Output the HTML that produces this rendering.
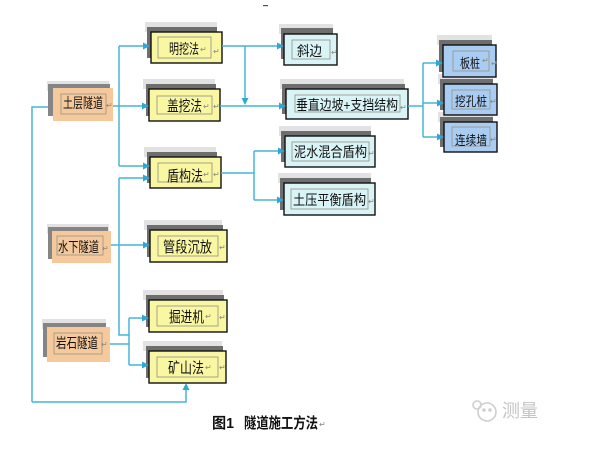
<!DOCTYPE html>
<html><head><meta charset="utf-8"><style>
html,body{margin:0;padding:0;background:#fff;}
svg{display:block;}
text{font-family:"Liberation Sans","Noto Sans CJK SC","WenQuanYi Zen Hei",sans-serif;}
</style></head><body>
<svg width="600" height="450" viewBox="0 0 600 450" xmlns="http://www.w3.org/2000/svg">
<rect width="600" height="450" fill="#fff"/>
<rect x="263" y="5" width="5" height="1.2" fill="#555"/>

<g>
<rect x="47" y="81" width="62" height="10" fill="#e2e2e2"/><rect x="48" y="84" width="62" height="32" fill="#858585"/>
<rect x="47" y="224" width="62" height="10" fill="#e2e2e2"/><rect x="48" y="227" width="60" height="32" fill="#858585"/>
<rect x="42" y="319" width="64" height="10" fill="#e2e2e2"/><rect x="43" y="323" width="63" height="34" fill="#858585"/>
<rect x="145" y="22" width="72" height="10" fill="#e2e2e2"/><rect x="147" y="27" width="70" height="31" fill="#6e6e6e"/>
<rect x="143" y="79" width="72" height="10" fill="#e2e2e2"/><rect x="146" y="84" width="70" height="32" fill="#6e6e6e"/>
<rect x="144" y="147" width="72" height="10" fill="#e2e2e2"/><rect x="147" y="152" width="70" height="31" fill="#6e6e6e"/>
<rect x="144" y="220" width="78" height="10" fill="#e2e2e2"/><rect x="147" y="225" width="76" height="32" fill="#6e6e6e"/>
<rect x="143" y="290" width="80" height="10" fill="#e2e2e2"/><rect x="146" y="295" width="78" height="32" fill="#6e6e6e"/>
<rect x="143" y="341" width="79" height="10" fill="#e2e2e2"/><rect x="146" y="346" width="77" height="32" fill="#6e6e6e"/>
<rect x="279" y="24" width="54" height="10" fill="#e2e2e2"/><rect x="281" y="28" width="52" height="31" fill="#6e6e6e"/>
<rect x="280" y="79" width="124" height="10" fill="#e2e2e2"/><rect x="282" y="84" width="123" height="30" fill="#6e6e6e"/>
<rect x="279" y="126" width="92" height="10" fill="#e2e2e2"/><rect x="281" y="131" width="90" height="31" fill="#6e6e6e"/>
<rect x="278" y="173" width="93" height="10" fill="#e2e2e2"/><rect x="280" y="178" width="91" height="32" fill="#6e6e6e"/>
<rect x="437" y="35" width="55" height="10" fill="#e2e2e2"/><rect x="439" y="40" width="53" height="32" fill="#6e6e6e"/>
<rect x="438" y="74" width="55" height="10" fill="#e2e2e2"/><rect x="440" y="79" width="53" height="31" fill="#6e6e6e"/>
<rect x="438" y="112" width="55" height="10" fill="#e2e2e2"/><rect x="440" y="117" width="53" height="30" fill="#6e6e6e"/>
</g>

<g>
<rect x="53" y="88" width="60" height="33" fill="#f6c99c"/>
<rect x="52" y="231" width="59" height="32" fill="#f6c99c"/>
<rect x="47" y="327" width="63" height="35" fill="#f6c99c"/>
</g>
<g stroke="#111" stroke-width="1.4" fill="#faf7a3">
<rect x="151" y="32" width="71" height="31"/>
<rect x="149" y="89" width="71" height="32"/>
<rect x="150" y="157" width="71" height="31"/>
<rect x="150" y="230" width="77" height="32"/>
<rect x="149" y="300" width="78" height="32"/>
<rect x="149" y="351" width="77" height="32"/>
</g>
<g stroke="#111" stroke-width="1.4" fill="#d9f4f7">
<rect x="284" y="34" width="53" height="31"/>
<rect x="286" y="89" width="122" height="30"/>
<rect x="285" y="136" width="90" height="31"/>
<rect x="284" y="183" width="91" height="32"/>
</g>
<g stroke="#111" stroke-width="1.4" fill="#a9ccf3">
<rect x="443" y="45" width="53" height="32"/>
<rect x="444" y="84" width="53" height="31"/>
<rect x="444" y="122" width="53" height="30"/>
</g>

<g stroke="#9a9a8a" stroke-width="0.9" fill="none">
<rect x="61" y="94" width="45" height="20"/>
<rect x="57" y="236" width="46" height="19"/>
<rect x="54" y="333" width="48" height="21"/>
<rect x="158" y="37" width="53" height="21"/>
<rect x="157" y="96" width="55" height="18"/>
<rect x="158" y="163" width="54" height="19"/>
<rect x="158" y="236" width="60" height="20"/>
<rect x="157" y="306" width="61" height="20"/>
<rect x="157" y="357" width="61" height="20"/>
<rect x="292" y="40" width="38" height="19"/>
<rect x="295" y="95" width="105" height="17"/>
<rect x="292" y="142" width="77" height="19"/>
<rect x="291" y="189" width="77" height="20"/>
<rect x="453" y="51" width="36" height="20"/>
<rect x="452" y="90" width="38" height="19"/>
<rect x="452" y="127" width="38" height="19"/>
</g>

<g fill="#111" font-size="14">
<text x="63" y="108" textLength="40" lengthAdjust="spacingAndGlyphs">土层隧道</text>
<text x="58" y="252" textLength="41" lengthAdjust="spacingAndGlyphs">水下隧道</text>
<text x="56" y="348" textLength="42" lengthAdjust="spacingAndGlyphs">岩石隧道</text>
<text x="169" y="54" textLength="30" lengthAdjust="spacingAndGlyphs">明挖法</text>
<text x="167" y="111" font-size="15" textLength="35" lengthAdjust="spacingAndGlyphs">盖挖法</text>
<text x="167" y="181" font-size="15" textLength="36" lengthAdjust="spacingAndGlyphs">盾构法</text>
<text x="163" y="252" font-size="15" textLength="49" lengthAdjust="spacingAndGlyphs">管段沉放</text>
<text x="169" y="322" font-size="15" textLength="35" lengthAdjust="spacingAndGlyphs">掘进机</text>
<text x="168" y="373" font-size="15" textLength="36" lengthAdjust="spacingAndGlyphs">矿山法</text>
<text x="297" y="56" textLength="25" lengthAdjust="spacingAndGlyphs">斜边</text>
<text x="296" y="110" textLength="102" lengthAdjust="spacingAndGlyphs">垂直边坡+支挡结构</text>
<text x="294" y="157" textLength="73" lengthAdjust="spacingAndGlyphs">泥水混合盾构</text>
<text x="293" y="205" textLength="73" lengthAdjust="spacingAndGlyphs">土压平衡盾构</text>
<text x="460" y="68" font-size="13" textLength="20" lengthAdjust="spacingAndGlyphs">板桩</text>
<text x="455" y="106" font-size="13" textLength="32" lengthAdjust="spacingAndGlyphs">挖孔桩</text>
<text x="455" y="145" font-size="13" textLength="32" lengthAdjust="spacingAndGlyphs">连续墙</text>
</g>

<g fill="#8a8a7a" font-size="8">
<text x="106" y="108">↵</text>
<text x="102" y="251">↵</text>
<text x="101" y="347">↵</text>
<text x="200" y="52">↵</text><text x="213" y="54">↵</text>
<text x="203" y="109">↵</text><text x="213" y="109">↵</text>
<text x="203" y="177">↵</text><text x="213" y="177">↵</text>
<text x="219" y="250">↵</text>
<text x="205" y="319">↵</text><text x="219" y="320">↵</text>
<text x="205" y="370">↵</text><text x="219" y="370">↵</text>
<text x="331" y="55">↵</text>
<text x="400" y="110">↵</text>
<text x="368" y="156">↵</text>
<text x="368" y="204">↵</text>
<text x="482" y="63">↵</text><text x="491" y="66">↵</text>
<text x="490" y="104">↵</text>
<text x="490" y="142">↵</text>
</g>

<g stroke="#45b6d6" stroke-width="1.5" fill="none">
<path d="M32 402 V107 H48"/>
<path d="M32 402 H186 V389"/>
<path d="M113 106 H119"/>
<path d="M119 46 V166"/>
<path d="M119 46 H144"/>
<path d="M119 106 H143"/>
<path d="M119 166 H144"/>
<path d="M119 178 V335 H129"/>
<path d="M119 178 H144"/>
<path d="M111 245 H144"/>
<path d="M110 344 H129"/>
<path d="M129 318 V365"/>
<path d="M129 318 H143"/>
<path d="M129 365 H143"/>
<path d="M222 46 H278"/>
<path d="M245 46 V99"/>
<path d="M220 106 H280"/>
<path d="M408 106 H423"/>
<path d="M423 63 V137"/>
<path d="M423 63 H437"/>
<path d="M423 103 H438"/>
<path d="M423 137 H438"/>
<path d="M221 173 H254"/>
<path d="M254 151 V200"/>
<path d="M254 151 H279"/>
<path d="M254 200 H278"/>
</g>
<g fill="#2fa8d4">
<polygon points="143,42.5 150,46 143,49.5"/>
<polygon points="142,102.5 149,106 142,109.5"/>
<polygon points="143,162.5 150,166 143,169.5"/>
<polygon points="143,174.5 150,178 143,181.5"/>
<polygon points="143,241.5 150,245 143,248.5"/>
<polygon points="142,314.5 149,318 142,321.5"/>
<polygon points="142,361.5 149,365 142,368.5"/>
<polygon points="182.5,390 186,383 189.5,390"/>
<polygon points="277,42.5 284,46 277,49.5"/>
<polygon points="241.5,98 245,105 248.5,98"/>
<polygon points="279,102.5 286,106 279,109.5"/>
<polygon points="436,59.5 443,63 436,66.5"/>
<polygon points="437,99.5 444,103 437,106.5"/>
<polygon points="437,133.5 444,137 437,140.5"/>
<polygon points="278,147.5 285,151 278,154.5"/>
<polygon points="277,196.5 284,200 277,203.5"/>
</g>

<g fill="#111" font-weight="bold" font-size="15" style="font-family:'Liberation Serif','Noto Serif CJK SC',serif">
<text x="212" y="428" textLength="22" lengthAdjust="spacingAndGlyphs">图1</text>
<text x="244" y="428" textLength="74" lengthAdjust="spacingAndGlyphs">隧道施工方法</text>
</g>
<text x="319" y="427" font-size="8" fill="#888">↵</text>

<g stroke="#cfcfcf" stroke-width="1.6" fill="none">
<path d="M477 401 a4 4 0 1 0 0.1 0"/>
<circle cx="487" cy="412" r="9"/>
<circle cx="484" cy="410" r="1" fill="#cfcfcf"/>
<circle cx="490" cy="410" r="1" fill="#cfcfcf"/>
</g>
<text x="502" y="417" font-size="18" fill="#c4c4c4" textLength="36" lengthAdjust="spacingAndGlyphs">测量</text>
</svg>
</body></html>
